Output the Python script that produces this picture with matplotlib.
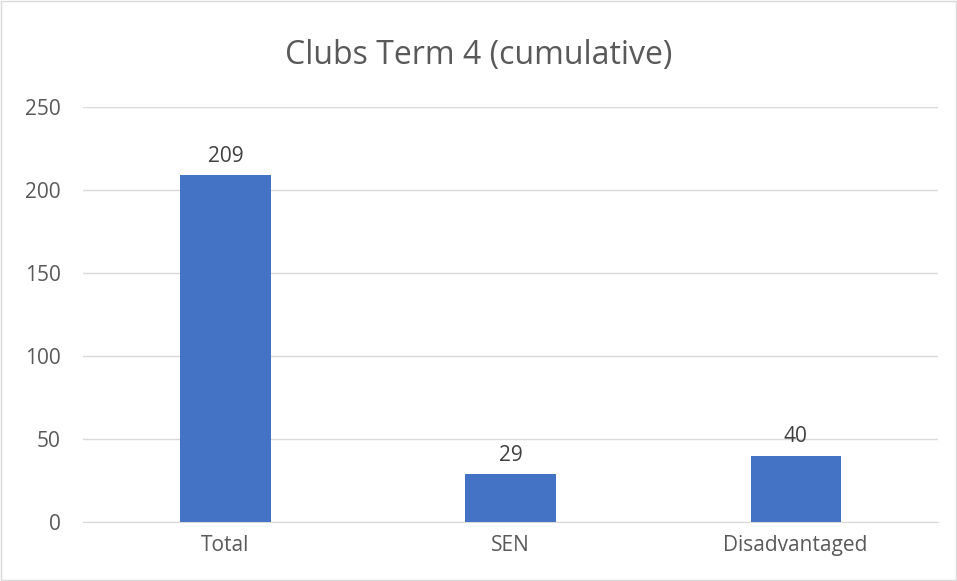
import matplotlib
matplotlib.use("Agg")
import matplotlib.pyplot as plt
from matplotlib.patches import Rectangle

categories = ["Total", "SEN", "Disadvantaged"]
values = [209, 29, 40]
yticks = [0, 50, 100, 150, 200, 250]

plt.rcParams['font.family'] = ['Open Sans', 'DejaVu Sans']
text_col = "#595959"

fig = plt.figure(figsize=(9.57, 5.81), dpi=100)
ax = fig.add_axes([0.0867, 0.1015, 0.8935, 0.7143])

x = range(len(categories))
bars = ax.bar(x, values, width=0.316, color="#4472C4", zorder=3)

# labels above bars
for b, v in zip(bars, values):
    ax.annotate(str(v), (b.get_x() + b.get_width() / 2, v), xytext=(0, 6),
                textcoords="offset points", ha="center", va="bottom",
                fontsize=15, color="#404040")

ax.set_xlim(-0.5, len(categories) - 0.5)
ax.set_ylim(0, 250)
ax.set_yticks(yticks)
ax.set_xticks(list(x))
ax.set_xticklabels(categories)
ax.yaxis.grid(True, color="#d9d9d9", linewidth=1, zorder=0)
ax.tick_params(axis="both", length=0, labelsize=15, labelcolor=text_col)
ax.tick_params(axis="y", pad=16)
ax.tick_params(axis="x", pad=9)
for s in ["top", "right", "left"]:
    ax.spines[s].set_visible(False)
ax.spines["bottom"].set_color("#d9d9d9")

fig.text(0.5, 0.905, "Clubs Term 4 (cumulative)", ha="center", va="center",
         fontsize=23, color=text_col)

# chart border
fig.patches.append(Rectangle((0.001, 0.001), 0.998, 0.998, transform=fig.transFigure,
                             fill=False, edgecolor="#d9d9d9", linewidth=1))

fig.savefig("out.png", dpi=100)
